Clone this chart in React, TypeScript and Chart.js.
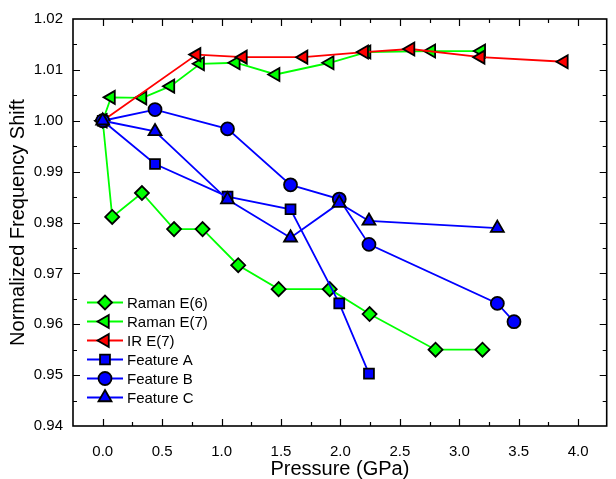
import React, { useEffect, useRef } from 'react';
import { Chart, registerables } from 'chart.js';
import { drawPoint } from 'chart.js/helpers';

Chart.register(...registerables);

// ---- Axis ticks ----
const xTickValues = [0, 0.5, 1.0, 1.5, 2.0, 2.5, 3.0, 3.5, 4.0];
const yTickValues = [0.94, 0.95, 0.96, 0.97, 0.98, 0.99, 1.0, 1.01, 1.02];

// ---- Series data ----
const seriesNames = ['Raman E(6)', 'Raman E(7)', 'IR E(7)', 'Feature A', 'Feature B', 'Feature C'];

const ramanE6Pressure = [0, 0.08, 0.33, 0.6, 0.84, 1.14, 1.48, 1.91, 2.245, 2.8, 3.195];
const ramanE6Shift = [1.0, 0.9811, 0.9858, 0.9787, 0.9787, 0.9716, 0.9669, 0.9669, 0.962, 0.955, 0.955];

const ramanE7Pressure = [0, 0.07, 0.335, 0.57, 0.82, 1.12, 1.455, 1.91, 2.22, 2.765, 3.185];
const ramanE7Shift = [1.0, 1.0046, 1.0045, 1.0068, 1.0112, 1.0114, 1.0091, 1.0114, 1.0135, 1.0137, 1.0137];

const irE7Pressure = [0, 0.79, 1.18, 1.69, 2.2, 2.59, 3.18, 3.88];
const irE7Shift = [1.0, 1.013, 1.0125, 1.0125, 1.0135, 1.0141, 1.0125, 1.0116];

const featureAPressure = [0, 0.44, 1.05, 1.58, 1.99, 2.24];
const featureAShift = [1.0, 0.9915, 0.9851, 0.9826, 0.9641, 0.9503];

const featureBPressure = [0, 0.44, 1.05, 1.58, 1.99, 2.24, 3.32, 3.46];
const featureBShift = [1.0, 1.0022, 0.9984, 0.9874, 0.9846, 0.9757, 0.9641, 0.9605];

const featureCPressure = [0, 0.44, 1.05, 1.58, 1.99, 2.24, 3.32];
const featureCShift = [1.0, 0.9979, 0.9845, 0.977, 0.9838, 0.9803, 0.9789];

const seriesPressure = [ramanE6Pressure, ramanE7Pressure, irE7Pressure, featureAPressure, featureBPressure, featureCPressure];
const seriesShift = [ramanE6Shift, ramanE7Shift, irE7Shift, featureAShift, featureBShift, featureCShift];

// ---- Styles ----
const GREEN = '#00ff00';
const RED = '#ff0000';
const BLUE = '#0000ff';
const seriesStyles = [
  { color: GREEN, pointStyle: 'rectRot', radius: 7, rotation: 0 },
  { color: GREEN, pointStyle: 'triangle', radius: 7.5, rotation: -90 },
  { color: RED, pointStyle: 'triangle', radius: 7.5, rotation: -90 },
  { color: BLUE, pointStyle: 'rect', radius: 7, rotation: 0 },
  { color: BLUE, pointStyle: 'circle', radius: 6.5, rotation: 0 },
  { color: BLUE, pointStyle: 'triangle', radius: 7.5, rotation: 0 },
];

const FONT = "'Liberation Sans', Arial, Helvetica, sans-serif";

const framePlugin = {
  id: 'frameTicks',
  beforeDatasetsDraw(chart: any) {
    const { ctx, chartArea: a, scales } = chart;
    const xs = scales.x;
    const ys = scales.y;
    ctx.save();
    ctx.strokeStyle = '#000';
    ctx.lineWidth = 1.2;
    ctx.beginPath();
    const majorLen = 7;
    const minorLen = 4;
    const xMinor: number[] = [];
    for (let i = 0; i < xTickValues.length; i++) {
      const step = i > 0 ? xTickValues[i] - xTickValues[i - 1] : xTickValues[1] - xTickValues[0];
      xMinor.push(xTickValues[i] - step / 2);
      if (i === xTickValues.length - 1) xMinor.push(xTickValues[i] + step / 2);
    }
    const yMinor: number[] = [];
    for (let i = 1; i < yTickValues.length; i++) {
      yMinor.push((yTickValues[i] + yTickValues[i - 1]) / 2);
    }
    const addX = (v: number, len: number) => {
      if (v <= xs.min || v >= xs.max) return;
      const px = Math.round(xs.getPixelForValue(v)) + 0.5;
      ctx.moveTo(px, a.bottom);
      ctx.lineTo(px, a.bottom - len);
      ctx.moveTo(px, a.top);
      ctx.lineTo(px, a.top + len);
    };
    const addY = (v: number, len: number) => {
      if (v <= ys.min + 1e-9 || v >= ys.max - 1e-9) return;
      const py = Math.round(ys.getPixelForValue(v)) + 0.5;
      ctx.moveTo(a.left, py);
      ctx.lineTo(a.left + len, py);
      ctx.moveTo(a.right, py);
      ctx.lineTo(a.right - len, py);
    };
    xTickValues.forEach((v) => addX(v, majorLen));
    xMinor.forEach((v) => addX(v, minorLen));
    yTickValues.forEach((v) => addY(v, majorLen));
    yMinor.forEach((v) => addY(v, minorLen));
    ctx.stroke();
    ctx.lineWidth = 1.6;
    ctx.strokeRect(a.left, a.top, a.right - a.left, a.bottom - a.top);
    ctx.restore();
  },
};

const legendPlugin = {
  id: 'innerLegend',
  afterDatasetsDraw(chart: any) {
    const { ctx, chartArea: a } = chart;
    ctx.save();
    const x0 = a.left + 14;
    const x1 = a.left + 50;
    const xm = a.left + 32;
    const xt = a.left + 54;
    const yStart = a.bottom - 123.5;
    const rowH = 19;
    seriesNames.forEach((name, i) => {
      const st = seriesStyles[i];
      const y = yStart + i * rowH;
      ctx.strokeStyle = st.color;
      ctx.lineWidth = 1.8;
      ctx.beginPath();
      ctx.moveTo(x0, y);
      ctx.lineTo(x1, y);
      ctx.stroke();
      ctx.fillStyle = st.color;
      ctx.strokeStyle = '#000';
      ctx.lineWidth = 1.8;
      drawPoint(ctx, { pointStyle: st.pointStyle, rotation: st.rotation, radius: st.radius, borderWidth: 1.8 } as any, xm, y);
      ctx.fillStyle = '#000';
      ctx.font = `15px ${FONT}`;
      ctx.textAlign = 'left';
      ctx.textBaseline = 'middle';
      ctx.fillText(name, xt, y + 1);
    });
    ctx.restore();
  },
};

export default function App() {
  const canvasRef = useRef<HTMLCanvasElement | null>(null);

  useEffect(() => {
    if (!canvasRef.current) return;
    const datasets = seriesNames.map((name, i) => {
      const st = seriesStyles[i];
      return {
        label: name,
        data: seriesPressure[i].map((p, j) => ({ x: p, y: seriesShift[i][j] })),
        borderColor: st.color,
        backgroundColor: st.color,
        borderWidth: 1.8,
        pointStyle: st.pointStyle,
        pointRotation: st.rotation,
        pointRadius: st.radius,
        pointBackgroundColor: st.color,
        pointBorderColor: '#000',
        pointBorderWidth: 1.8,
        tension: 0,
        showLine: true,
        order: seriesNames.length - i,
      };
    });

    const chart = new Chart(canvasRef.current, {
      type: 'scatter',
      data: { datasets: datasets as any },
      options: {
        animation: false,
        responsive: false,
        devicePixelRatio: 1,
        layout: { padding: { left: 0, top: 19, right: 3, bottom: 0 } },
        plugins: {
          legend: { display: false },
          tooltip: { enabled: false },
        },
        scales: {
          x: {
            type: 'linear',
            min: -0.25,
            max: 4.24,
            grid: { display: false, drawTicks: false },
            border: { display: false },
            afterBuildTicks: (scale: any) => {
              scale.ticks = xTickValues.map((v) => ({ value: v }));
            },
            afterFit: (scale: any) => {
              scale.height = 53;
            },
            ticks: {
              padding: 17,
              color: '#000',
              font: { family: FONT, size: 15 },
              maxRotation: 0,
              autoSkip: false,
              callback: (v: any) => Number(v).toFixed(1),
            },
            title: {
              display: true,
              text: 'Pressure (GPa)',
              color: '#000',
              font: { family: FONT, size: 20, lineHeight: 1 },
              padding: { top: 0, bottom: 0 },
            },
          },
          y: {
            type: 'linear',
            min: 0.94,
            max: 1.02,
            grid: { display: false, drawTicks: false },
            border: { display: false },
            afterBuildTicks: (scale: any) => {
              scale.ticks = yTickValues.map((v) => ({ value: v }));
            },
            afterFit: (scale: any) => {
              scale.width = 73;
            },
            ticks: {
              padding: 10,
              color: '#000',
              font: { family: FONT, size: 15 },
              autoSkip: false,
              callback: (v: any) => Number(v).toFixed(2),
            },
            title: {
              display: true,
              text: 'Normalized Frequency Shift',
              color: '#000',
              font: { family: FONT, size: 20, lineHeight: 1 },
              padding: { top: 8, bottom: 0 },
            },
          },
        },
      },
      plugins: [framePlugin, legendPlugin],
    });

    return () => chart.destroy();
  }, []);

  return (
    <div style={{ position: 'absolute', left: 0, top: 0, width: 616, height: 479, background: '#fff' }}>
      <canvas ref={canvasRef} width={616} height={479} style={{ display: 'block' }} />
    </div>
  );
}
